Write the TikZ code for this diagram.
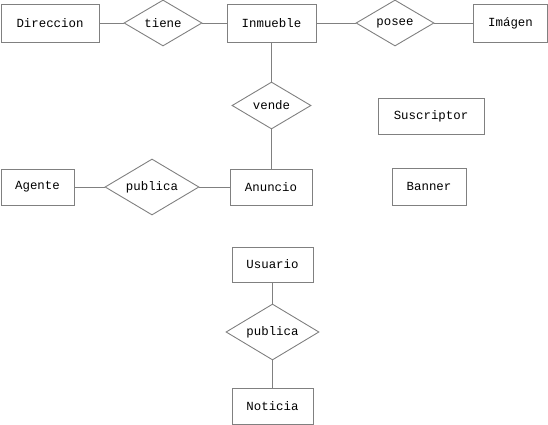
\documentclass[tikz,border=0pt]{standalone}
\usepackage{fontspec}
\setmonofont{Liberation Mono}
\usetikzlibrary{shapes.geometric}
\definecolor{edgegray}{RGB}{128,128,128}
\begin{document}
\begin{tikzpicture}[x=1pt,y=-1pt,
  every node/.style={font=\ttfamily\fontsize{12.4}{14}\selectfont, text=black, inner sep=0pt},
  ent/.style={draw=edgegray, line width=0.9pt, rectangle},
  rel/.style={draw=edgegray, line width=0.9pt, diamond},
  conn/.style={draw=edgegray, line width=0.9pt}]
\useasboundingbox (0,0) rectangle (548,425);
% entities
\node[ent, minimum width=98, minimum height=38] (direccion) at (50,23) {Direccion};
\node[ent, minimum width=89, minimum height=38] (inmueble) at (271.5,23) {Inmueble};
\node[ent, minimum width=74, minimum height=38] (imagen) at (510.5,23) {Imágen};
\node[ent, minimum width=106, minimum height=36] (suscriptor) at (431,116) {Suscriptor};
\node[ent, minimum width=74, minimum height=37] (banner) at (429,186.5) {Banner};
\node[ent, minimum width=73, minimum height=36] (agente) at (37.5,187) {Agente};
\node[ent, minimum width=82, minimum height=36] (anuncio) at (271,187) {Anuncio};
\node[ent, minimum width=81, minimum height=35] (usuario) at (272.5,264.5) {Usuario};
\node[ent, minimum width=81, minimum height=36] (noticia) at (272.5,406) {Noticia};
% relationships
\node[rel, minimum width=78, minimum height=46] (tiene) at (163,23) {\makebox[0pt]{tiene}};
\node[rel, minimum width=78, minimum height=46] (posee) at (395,23) {\makebox[0pt]{posee}};
\node[rel, minimum width=79, minimum height=47] (vende) at (271.5,105.5) {\makebox[0pt]{vende}};
\node[rel, minimum width=94, minimum height=56] (publica1) at (152,187) {\makebox[0pt]{publica}};
\node[rel, minimum width=93, minimum height=56] (publica2) at (272.5,332) {\makebox[0pt]{publica}};
% connectors
\draw[conn] (direccion.east) -- (tiene.west);
\draw[conn] (tiene.east) -- (inmueble.west);
\draw[conn] (inmueble.east) -- (posee.west);
\draw[conn] (posee.east) -- (imagen.west);
\draw[conn] (inmueble.south) -- (vende.north);
\draw[conn] (vende.south) -- (anuncio.north -| vende.south);
\draw[conn] (agente.east) -- (publica1.west);
\draw[conn] (publica1.east) -- (anuncio.west);
\draw[conn] (usuario.south) -- (publica2.north);
\draw[conn] (publica2.south) -- (noticia.north);
\end{tikzpicture}
\end{document}
